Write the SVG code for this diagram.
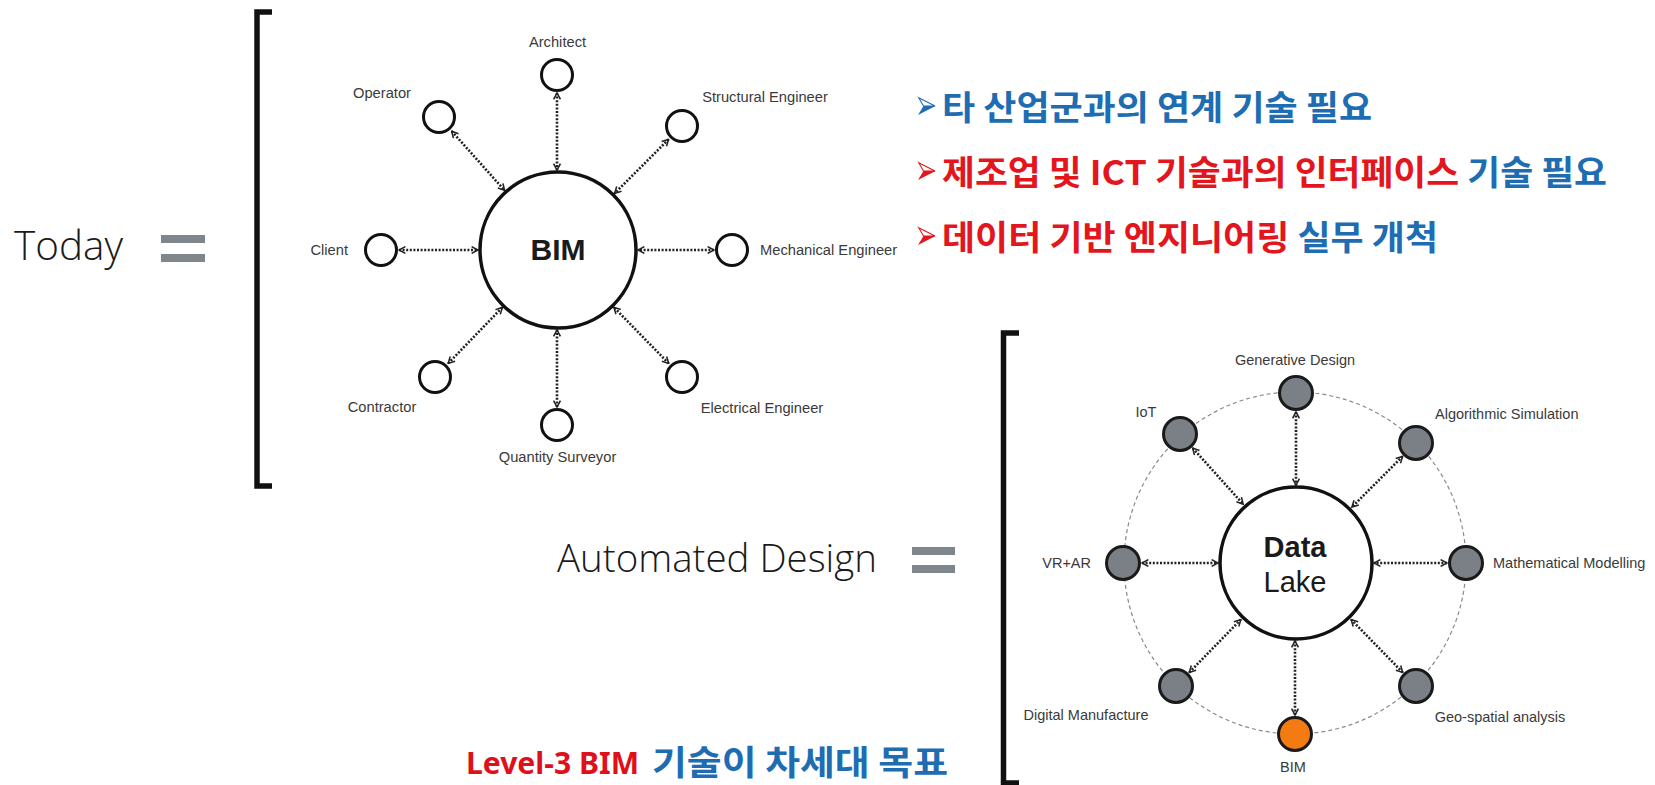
<svg xmlns="http://www.w3.org/2000/svg" width="1655" height="785" viewBox="0 0 1655 785">
<defs>
<style>
.big { font-family: "Open Sans", "Liberation Sans", Arial, sans-serif; font-weight: 300; fill: #1a1a1a; }
.lbl { font-family: "Liberation Sans", Arial, sans-serif; font-size: 14.7px; fill: #3a3a3a; }
.lbl2 { font-family: "Liberation Sans", Arial, sans-serif; font-size: 14.5px; fill: #3a3a3a; }
.node { fill: #fff; stroke: #111; stroke-width: 3; }
.gnode { fill: #7b7f86; stroke: #1a1a1a; stroke-width: 3; }
.onode { fill: #f47a12; stroke: #1a1a1a; stroke-width: 3; }
.hub { fill: #fff; stroke: #111; stroke-width: 3.5; }
.conn { stroke: #222; stroke-width: 2.6; stroke-dasharray: 2 1.6; fill: none; marker-start: url(#ah); marker-end: url(#ah); }
.ring { fill: none; stroke: #8a8a8a; stroke-width: 1.2; stroke-dasharray: 4 3; }
.eq { fill: #7f868c; }
.brk { fill: none; stroke: #111; stroke-width: 5.5; }
.kr { font-family: "Noto Sans CJK KR", "Noto Sans", sans-serif; font-weight: bold; font-size: 34px; }
.blue { fill: #1e6db3; }
.red { fill: #e3161d; }
</style>
<marker id="ah" viewBox="0 0 10 10" refX="9" refY="5" markerWidth="8.5" markerHeight="8.5" orient="auto-start-reverse" markerUnits="userSpaceOnUse">
<path d="M1.5,1 L9,5 L1.5,9" fill="none" stroke="#222" stroke-width="1.8"/>
</marker>
<g id="bul-blue">
<polygon points="0.7,0.7 17,9 5.5,9" fill="#fff" stroke="#1e6db3" stroke-width="1.1"/>
<polygon points="5.5,9 17.5,9 0,18" fill="#1e6db3"/>
</g>
<g id="bul-red">
<polygon points="0.7,0.7 17,9 5.5,9" fill="#fff" stroke="#e3161d" stroke-width="1.1"/>
<polygon points="5.5,9 17.5,9 0,18" fill="#e3161d"/>
</g>
</defs>
<rect width="1655" height="785" fill="#fff"/>

<!-- Today = [ -->
<g id="today">
<text class="big" x="14" y="260" font-size="41" textLength="109" lengthAdjust="spacingAndGlyphs">Today</text>
<rect class="eq" x="161" y="235" width="44" height="8"/>
<rect class="eq" x="161" y="254" width="44" height="8"/>
<path class="brk" d="M272,12 H257 V486 H272"/>
</g>

<!-- Automated Design = [ -->
<g id="automated">
<text class="big" x="557" y="572" font-size="39" textLength="320" lengthAdjust="spacingAndGlyphs">Automated Design</text>
<rect class="eq" x="912" y="547" width="43" height="8"/>
<rect class="eq" x="912" y="565" width="43" height="8"/>
<path class="brk" d="M1019,333 H1003.5 V783 H1019"/>
</g>

<!-- connectors -->
<g id="connectors">
<line class="conn" x1="557" y1="93" x2="557" y2="170"/>
<line class="conn" x1="451.7" y1="131.2" x2="504.6" y2="190.4"/>
<line class="conn" x1="668.6" y1="139.4" x2="614.6" y2="193.4"/>
<line class="conn" x1="399" y1="250" x2="478" y2="250"/>
<line class="conn" x1="714" y1="250" x2="638" y2="250"/>
<line class="conn" x1="448.2" y1="363.4" x2="502.3" y2="307.4"/>
<line class="conn" x1="557" y1="407" x2="557" y2="330"/>
<line class="conn" x1="668.7" y1="363.4" x2="613.9" y2="307.3"/>

<line class="conn" x1="1296" y1="412" x2="1296" y2="485"/>
<line class="conn" x1="1192.7" y1="448.1" x2="1243.2" y2="504.2"/>
<line class="conn" x1="1402.6" y1="456.4" x2="1351.9" y2="507.1"/>
<line class="conn" x1="1142" y1="563" x2="1218" y2="563"/>
<line class="conn" x1="1447" y1="563" x2="1374" y2="563"/>
<line class="conn" x1="1189.3" y1="672.4" x2="1240.8" y2="619.6"/>
<line class="conn" x1="1402.7" y1="672.4" x2="1351.2" y2="619.6"/>
<line class="conn" x1="1295" y1="715" x2="1295" y2="641"/>
</g>

<!-- top diagram nodes -->
<g id="bim-hub">
<circle class="hub" cx="558" cy="250" r="78"/>
<text x="558" y="260" text-anchor="middle" font-family="Liberation Sans, Arial, sans-serif" font-weight="bold" font-size="30" fill="#1a1a1a">BIM</text>
</g>
<g id="architect"><circle class="node" cx="557" cy="75" r="15.5"/><text class="lbl" x="557.5" y="47" text-anchor="middle">Architect</text></g>
<g id="operator"><circle class="node" cx="439" cy="117" r="15.5"/><text class="lbl" x="382" y="98" text-anchor="middle">Operator</text></g>
<g id="structural"><circle class="node" cx="682" cy="126" r="15.5"/><text class="lbl" x="765" y="102" text-anchor="middle">Structural Engineer</text></g>
<g id="client"><circle class="node" cx="381" cy="250" r="15.5"/><text class="lbl" x="348" y="255" text-anchor="end">Client</text></g>
<g id="mechanical"><circle class="node" cx="732" cy="250" r="15.5"/><text class="lbl" x="760" y="255">Mechanical Engineer</text></g>
<g id="contractor"><circle class="node" cx="435" cy="377" r="15.5"/><text class="lbl" x="382" y="412" text-anchor="middle">Contractor</text></g>
<g id="quantity"><circle class="node" cx="557" cy="425" r="15.5"/><text class="lbl" x="557.5" y="462" text-anchor="middle">Quantity Surveyor</text></g>
<g id="electrical"><circle class="node" cx="682" cy="377" r="15.5"/><text class="lbl" x="762" y="413" text-anchor="middle">Electrical Engineer</text></g>

<!-- bottom diagram -->
<circle class="ring" cx="1295" cy="563" r="171"/>
<g id="datalake">
<circle class="hub" cx="1296" cy="563" r="76"/>
<text x="1295" y="557" text-anchor="middle" font-family="Liberation Sans, Arial, sans-serif" font-weight="bold" font-size="29" fill="#1a1a1a">Data</text>
<text x="1295" y="592" text-anchor="middle" font-family="Liberation Sans, Arial, sans-serif" font-size="29" fill="#1a1a1a">Lake</text>
</g>
<g id="generative"><circle class="gnode" cx="1296" cy="393" r="16.5"/><text class="lbl2" x="1295" y="365" text-anchor="middle">Generative Design</text></g>
<g id="iot"><circle class="gnode" cx="1180" cy="434" r="16.5"/><text class="lbl2" x="1146" y="417" text-anchor="middle">IoT</text></g>
<g id="algorithmic"><circle class="gnode" cx="1416" cy="443" r="16.5"/><text class="lbl2" x="1435" y="419">Algorithmic Simulation</text></g>
<g id="vrar"><circle class="gnode" cx="1123" cy="563" r="16.5"/><text class="lbl2" x="1091" y="568" text-anchor="end">VR+AR</text></g>
<g id="mathematical"><circle class="gnode" cx="1466" cy="563" r="16.5"/><text class="lbl2" x="1493" y="568">Mathematical Modelling</text></g>
<g id="digital"><circle class="gnode" cx="1176" cy="686" r="16.5"/><text class="lbl2" x="1086" y="720" text-anchor="middle">Digital Manufacture</text></g>
<g id="geospatial"><circle class="gnode" cx="1416" cy="686" r="16.5"/><text class="lbl2" x="1500" y="722" text-anchor="middle">Geo-spatial analysis</text></g>
<g id="bim-node"><circle class="onode" cx="1295" cy="734" r="16.5"/><text class="lbl2" x="1293" y="772" text-anchor="middle">BIM</text></g>

<!-- Korean bullet points -->
<g id="bullets">
<use href="#bul-blue" x="918" y="97"/>
<text class="kr blue" x="942" y="120" textLength="430" lengthAdjust="spacingAndGlyphs">타 산업군과의 연계 기술 필요</text>
<use href="#bul-red" x="918" y="162"/>
<text class="kr" x="942" y="185" textLength="665" lengthAdjust="spacingAndGlyphs"><tspan class="red">제조업 및 ICT 기술과의 인터페이스</tspan><tspan class="blue"> 기술 필요</tspan></text>
<use href="#bul-red" x="918" y="227"/>
<text class="kr" x="942" y="250" textLength="496" lengthAdjust="spacingAndGlyphs"><tspan class="red">데이터 기반 엔지니어링</tspan><tspan class="blue"> 실무 개척</tspan></text>
</g>

<g id="goal">
<text x="466" y="774" font-family="Noto Sans, sans-serif" font-weight="bold" font-size="31" fill="#e0101a" textLength="173" lengthAdjust="spacingAndGlyphs">Level-3 BIM</text>
<text x="652" y="775" font-family="Noto Sans CJK KR, sans-serif" font-weight="bold" font-size="34" fill="#1e6db3" textLength="296" lengthAdjust="spacingAndGlyphs">기술이 차세대 목표</text>
</g>
</svg>
